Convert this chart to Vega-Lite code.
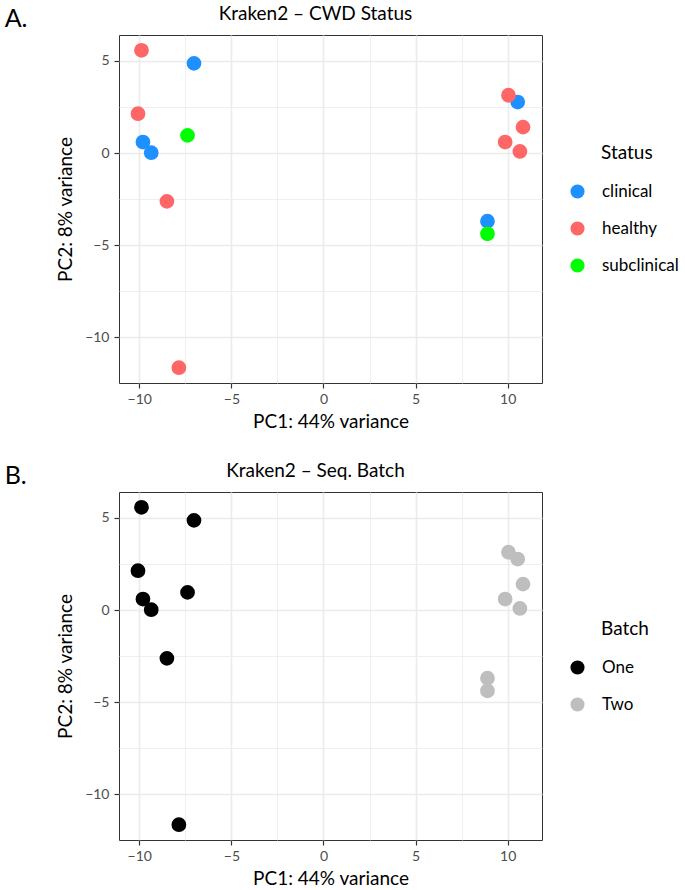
{
  "$schema": "https://vega.github.io/schema/vega-lite/v6.json",
  "padding": {"left": 4, "top": 3, "right": 0, "bottom": 0},
  "background": "white",
  "datasets": {
    "pca": [
      {"PC1": -9.88, "PC2": 5.58, "Status": "healthy", "Batch": "One"},
      {"PC1": -7.03, "PC2": 4.87, "Status": "clinical", "Batch": "One"},
      {"PC1": -10.07, "PC2": 2.14, "Status": "healthy", "Batch": "One"},
      {"PC1": -7.38, "PC2": 0.96, "Status": "subclinical", "Batch": "One"},
      {"PC1": -9.80, "PC2": 0.60, "Status": "clinical", "Batch": "One"},
      {"PC1": -9.35, "PC2": 0.02, "Status": "clinical", "Batch": "One"},
      {"PC1": -8.50, "PC2": -2.62, "Status": "healthy", "Batch": "One"},
      {"PC1": -7.85, "PC2": -11.65, "Status": "healthy", "Batch": "One"},
      {"PC1": 10.54, "PC2": 2.77, "Status": "clinical", "Batch": "Two"},
      {"PC1": 10.04, "PC2": 3.14, "Status": "healthy", "Batch": "Two"},
      {"PC1": 10.83, "PC2": 1.41, "Status": "healthy", "Batch": "Two"},
      {"PC1": 9.86, "PC2": 0.60, "Status": "healthy", "Batch": "Two"},
      {"PC1": 10.66, "PC2": 0.09, "Status": "healthy", "Batch": "Two"},
      {"PC1": 8.90, "PC2": -3.70, "Status": "clinical", "Batch": "Two"},
      {"PC1": 8.90, "PC2": -4.38, "Status": "subclinical", "Batch": "Two"}
    ]
  },
  "config": {
    "font": "Lato",
    "view": {"stroke": "#333333", "strokeWidth": 1},
    "axis": {
      "labelFont": "Lato",
      "labelFontSize": 14,
      "labelColor": "#4D4D4D",
      "tickColor": "#333333",
      "tickSize": 5,
      "tickWidth": 1.2,
      "domain": false,
      "gridColor": "#EBEBEB",
      "titleFont": "Lato",
      "titleFontSize": 19,
      "titleFontWeight": "normal",
      "titleColor": "#000000"
    },
    "legend": {
      "titleFont": "Lato",
      "titleFontSize": 19,
      "titleFontWeight": "normal",
      "titleColor": "#000000",
      "labelFont": "Lato",
      "labelFontSize": 17,
      "labelColor": "#000000",
      "symbolType": "circle",
      "symbolSize": 200,
      "symbolStrokeWidth": 0,
      "symbolOffset": -32,
      "rowPadding": 19,
      "titlePadding": 20,
      "labelOffset": 16,
      "offset": 59,
      "layout": {"right": {"anchor": "middle"}}
    },
    "title": {"font": "Lato", "fontWeight": "normal", "color": "#000000"}
  },
  "spacing": 28,
  "resolve": {"scale": {"color": "independent"}},
  "vconcat": [
    {
      "width": 423,
      "height": 348,
      "title": {"text": "A.", "anchor": "start", "frame": "bounds", "fontSize": 25, "dx": -52, "offset": -28},
      "data": {"name": "pca"},
      "layer": [
        {
          "mark": {"type": "point", "opacity": 0},
          "encoding": {
            "x": {"field": "PC1", "type": "quantitative", "scale": {"domain": [-11.1, 11.86], "nice": false, "zero": false},
              "axis": {"orient": "top", "values": [-7.5, -2.5, 2.5, 7.5], "labels": false, "ticks": false, "grid": true, "gridWidth": 0.8, "title": "Kraken2 – CWD Status", "titlePadding": 12, "titleAnchor": "middle", "titleX": 196}},
            "y": {"field": "PC2", "type": "quantitative", "scale": {"domain": [-12.48, 6.41], "nice": false, "zero": false},
              "axis": {"orient": "right", "values": [-7.5, -2.5, 2.5], "labels": false, "ticks": false, "grid": true, "gridWidth": 0.8, "title": null}}
          }
        },
        {
          "mark": {"type": "point", "filled": true, "size": 218, "opacity": 1},
          "encoding": {
            "x": {"field": "PC1", "type": "quantitative", "scale": {"domain": [-11.1, 11.86], "nice": false, "zero": false},
              "axis": {"orient": "bottom", "values": [-10, -5, 0, 5, 10], "grid": true, "gridWidth": 1.6, "title": "PC1: 44% variance", "labelPadding": 4, "titlePadding": 6}},
            "y": {"field": "PC2", "type": "quantitative", "scale": {"domain": [-12.48, 6.41], "nice": false, "zero": false},
              "axis": {"orient": "left", "values": [-10, -5, 0, 5], "grid": true, "gridWidth": 1.6, "title": "PC2: 8% variance", "labelPadding": 5, "titlePadding": 9}},
            "color": {"field": "Status", "type": "nominal",
              "scale": {"domain": ["clinical", "healthy", "subclinical"], "range": ["#1E90FF", "#FF6666", "#00FF00"]},
              "legend": {"title": "Status"}}
          }
        }
      ],
      "resolve": {"axis": {"x": "independent", "y": "independent"}}
    },
    {
      "width": 423,
      "height": 348,
      "title": {"text": "B.", "anchor": "start", "frame": "bounds", "fontSize": 25, "dx": -52, "offset": -28},
      "data": {"name": "pca"},
      "layer": [
        {
          "mark": {"type": "point", "opacity": 0},
          "encoding": {
            "x": {"field": "PC1", "type": "quantitative", "scale": {"domain": [-11.1, 11.86], "nice": false, "zero": false},
              "axis": {"orient": "top", "values": [-7.5, -2.5, 2.5, 7.5], "labels": false, "ticks": false, "grid": true, "gridWidth": 0.8, "title": "Kraken2 – Seq. Batch", "titlePadding": 12, "titleAnchor": "middle", "titleX": 196}},
            "y": {"field": "PC2", "type": "quantitative", "scale": {"domain": [-12.48, 6.41], "nice": false, "zero": false},
              "axis": {"orient": "right", "values": [-7.5, -2.5, 2.5], "labels": false, "ticks": false, "grid": true, "gridWidth": 0.8, "title": null}}
          }
        },
        {
          "mark": {"type": "point", "filled": true, "size": 218, "opacity": 1},
          "encoding": {
            "x": {"field": "PC1", "type": "quantitative", "scale": {"domain": [-11.1, 11.86], "nice": false, "zero": false},
              "axis": {"orient": "bottom", "values": [-10, -5, 0, 5, 10], "grid": true, "gridWidth": 1.6, "title": "PC1: 44% variance", "labelPadding": 4, "titlePadding": 6}},
            "y": {"field": "PC2", "type": "quantitative", "scale": {"domain": [-12.48, 6.41], "nice": false, "zero": false},
              "axis": {"orient": "left", "values": [-10, -5, 0, 5], "grid": true, "gridWidth": 1.6, "title": "PC2: 8% variance", "labelPadding": 5, "titlePadding": 9}},
            "color": {"field": "Batch", "type": "nominal",
              "scale": {"domain": ["One", "Two"], "range": ["#000000", "#BEBEBE"]},
              "legend": {"title": "Batch"}}
          }
        }
      ],
      "resolve": {"axis": {"x": "independent", "y": "independent"}}
    }
  ]
}
